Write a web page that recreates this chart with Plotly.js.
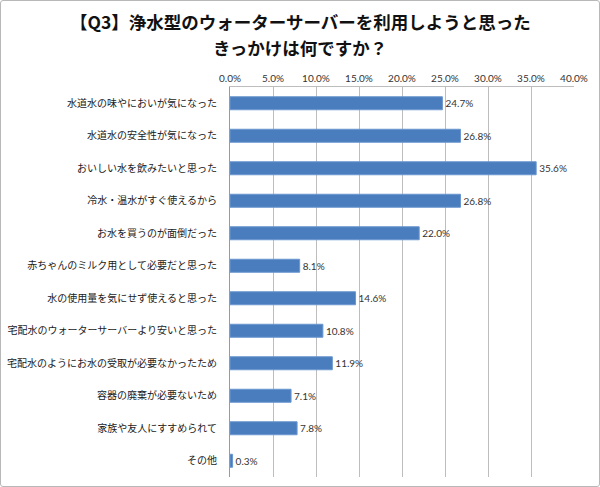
<!DOCTYPE html>
<html>
<head>
<meta charset="utf-8">
<script src="https://cdn.plot.ly/plotly-3.0.1.min.js"></script>
<style>
  body { margin: 0; background: #fff; }
  #wrap { position: relative; width: 600px; height: 487px; }
  #chart { width: 600px; height: 487px; }
  #frame {
    position: absolute; left: 0; top: 0; width: 598px; height: 485px;
    border: 1px solid #b8b8b8; border-radius: 3px; pointer-events: none;
  }
</style>
</head>
<body>
<div id="wrap">
  <div id="chart"></div>
  <div id="frame"></div>
</div>
<script>
// answers, top to bottom as in the survey chart
var reasons = [
  "水道水の味やにおいが気になった",
  "水道水の安全性が気になった",
  "おいしい水を飲みたいと思った",
  "冷水・温水がすぐ使えるから",
  "お水を買うのが面倒だった",
  "赤ちゃんのミルク用として必要だと思った",
  "水の使用量を気にせず使えると思った",
  "宅配水のウォーターサーバーより安いと思った",
  "宅配水のようにお水の受取が必要なかったため",
  "容器の廃棄が必要ないため",
  "家族や友人にすすめられて",
  "その他"
];
var percents = [24.7, 26.8, 35.6, 26.8, 22.0, 8.1, 14.6, 10.8, 11.9, 7.1, 7.8, 0.3];
var titleLines = [
  "【Q3】浄水型のウォーターサーバーを利用しようと思った",
  "きっかけは何ですか？"
];

var jp = '"Noto Sans CJK JP", "Noto Sans", sans-serif';
var num = 'Lato, "Liberation Sans", sans-serif';

var trace = {
  type: "bar",
  orientation: "h",
  x: percents,
  y: reasons,
  width: 0.4,
  marker: { color: "#4a7dbd", line: { color: "#6b97cf", width: 1 } },
  text: percents.map(function (v) { return v.toFixed(1) + "%"; }),
  textposition: "outside",
  cliponaxis: false,
  textfont: { family: num, size: 10, color: "#333" },
  hoverinfo: "x+y"
};

// title drawn as two centred lines above the plot
var titleY = [1.167, 1.102];
var annotations = titleLines.map(function (t, i) {
  return {
    text: t,
    xref: "paper", yref: "paper",
    x: 70 / 344, y: titleY[i],
    xanchor: "center", yanchor: "middle",
    showarrow: false,
    font: { family: jp, size: 17.5, color: "#111", weight: "bold" }
  };
});

var layout = {
  width: 600,
  height: 487,
  margin: { l: 230, r: 26, t: 87, b: 10 },
  paper_bgcolor: "#fff",
  plot_bgcolor: "#fff",
  showlegend: false,
  annotations: annotations,
  xaxis: {
    side: "top",
    range: [0, 40],
    dtick: 5,
    tickformat: ".1f",
    ticksuffix: "%",
    showgrid: true,
    gridcolor: "#bdbdbd",
    gridwidth: 1,
    showline: true,
    linecolor: "#bdbdbd",
    zeroline: false,
    ticks: "",
    tickfont: { family: num, size: 10, color: "#333" },
    fixedrange: true
  },
  yaxis: {
    autorange: "reversed",
    showline: true,
    linecolor: "#9a9a9a",
    showgrid: false,
    ticks: "",
    ticklabelstandoff: 10,
    tickfont: { family: jp, size: 10, color: "#1a1a1a" },
    fixedrange: true
  }
};

Plotly.newPlot("chart", [trace], layout, { displayModeBar: false, staticPlot: true });
</script>
</body>
</html>
